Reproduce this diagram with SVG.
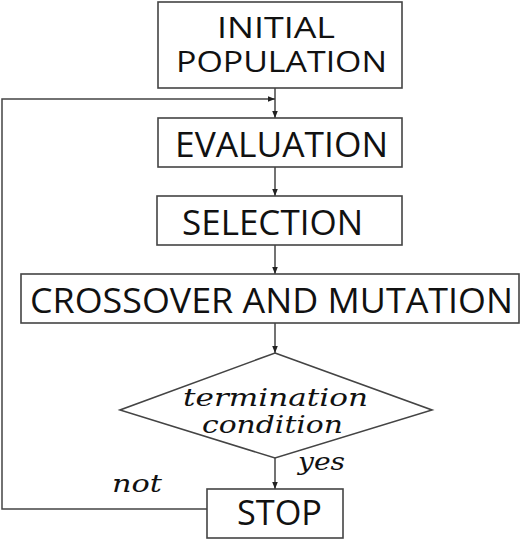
<svg xmlns="http://www.w3.org/2000/svg" width="521" height="541" viewBox="0 0 521 541">
<style>
.box{fill:#fff;stroke:#444;stroke-width:1.6}
.lbl{font-family:"Open Sans","DejaVu Sans",sans-serif;font-size:35px;fill:#111}
.sm{font-size:30px}
.it{font-family:"DejaVu Serif","Liberation Serif",serif;font-style:italic;font-size:25px;fill:#111}
.ln{fill:none;stroke:#444;stroke-width:1.5}
</style>
<defs>
<marker id="ah" viewBox="0 0 10 10" refX="10" refY="5" markerWidth="7" markerHeight="7" markerUnits="userSpaceOnUse" orient="auto">
<path d="M0,1 L10,5 L0,9 Z" fill="#222"/>
</marker>
</defs>
<rect width="521" height="541" fill="#fff"/>
<g id="connectors">
<line class="ln" x1="275" y1="88" x2="275" y2="118" marker-end="url(#ah)"/>
<line class="ln" x1="275" y1="167" x2="275" y2="196" marker-end="url(#ah)"/>
<line class="ln" x1="275" y1="245" x2="275" y2="274" marker-end="url(#ah)"/>
<line class="ln" x1="275" y1="323" x2="275" y2="353" marker-end="url(#ah)"/>
<line class="ln" x1="275" y1="458" x2="275" y2="489" marker-end="url(#ah)"/>
<polyline class="ln" points="207,509 2,509 2,99 275,99" marker-end="url(#ah)"/>
<text class="it" x="298" y="470" textLength="47" lengthAdjust="spacingAndGlyphs">yes</text>
<text class="it" x="112" y="492" textLength="50" lengthAdjust="spacingAndGlyphs">not</text>
</g>
<g id="initial">
<rect class="box" x="158" y="2" width="244" height="86"/>
<text class="lbl sm" x="217" y="38" textLength="118" lengthAdjust="spacingAndGlyphs">INITIAL</text>
<text class="lbl sm" x="176" y="72" textLength="211" lengthAdjust="spacingAndGlyphs">POPULATION</text>
</g>
<g id="evaluation">
<rect class="box" x="158" y="118" width="244" height="49"/>
<text class="lbl" x="175" y="157" textLength="213" lengthAdjust="spacingAndGlyphs">EVALUATION</text>
</g>
<g id="selection">
<rect class="box" x="157" y="196" width="245" height="49"/>
<text class="lbl" x="182" y="235" textLength="181" lengthAdjust="spacingAndGlyphs">SELECTION</text>
</g>
<g id="crossover">
<rect class="box" x="21" y="274" width="498" height="49"/>
<text class="lbl" x="30" y="313" textLength="483" lengthAdjust="spacingAndGlyphs">CROSSOVER AND MUTATION</text>
</g>
<g id="termination">
<polygon class="box" points="275,353 432,410 275,458 120,410"/>
<text class="it" x="183" y="406" textLength="185" lengthAdjust="spacingAndGlyphs">termination</text>
<text class="it" x="202" y="433" textLength="141" lengthAdjust="spacingAndGlyphs">condition</text>
</g>
<g id="stop">
<rect class="box" x="207" y="489" width="136" height="49"/>
<text class="lbl" x="237" y="525" textLength="85" lengthAdjust="spacingAndGlyphs">STOP</text>
</g>
</svg>
